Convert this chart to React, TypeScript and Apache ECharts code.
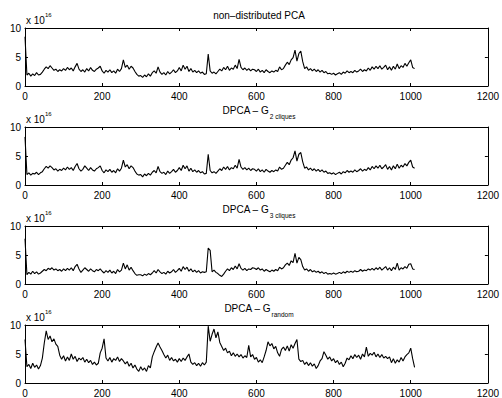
import React, { useEffect, useRef } from "react";
import * as echarts from "echarts";

// Sample spacing along the x axis (iteration index)
const SAMPLE_STEP = 5;

const nonDistributed = [
  8.5, 1.9, 2.2, 1.7, 2.1, 1.8, 2.3, 1.9, 2.0, 2.4,
  2.9, 3.3, 3.0, 3.5, 3.1, 2.7, 2.9, 2.5, 2.8, 2.6,
  3.0, 2.7, 3.2, 2.8, 3.1, 2.6, 3.3, 3.9, 2.9, 2.5,
  2.8, 2.4, 3.0, 2.6, 3.2, 2.7, 2.5, 2.9, 3.1, 3.4,
  2.6, 2.2, 2.7, 2.4, 2.8, 2.3, 2.6, 2.2, 2.9, 2.5,
  3.0, 4.5, 3.2, 3.6, 2.9, 3.4, 3.1, 2.5, 2.0, 1.7,
  1.8, 1.5, 1.9, 1.6, 2.1, 1.7, 2.3, 2.6, 2.2, 3.3,
  2.4, 2.0, 2.3, 1.9, 2.5, 2.1, 2.4, 2.8, 2.3, 2.6,
  3.2, 2.6, 3.6, 2.9, 3.4, 2.5, 3.0, 2.4, 2.7, 2.3,
  2.6, 2.2, 2.4, 2.0, 2.1, 5.5, 2.6, 2.2, 2.4, 2.1,
  2.5, 2.9, 2.6, 3.2, 2.8, 3.4, 2.7, 3.1, 2.9, 3.6,
  3.0, 4.6, 3.2, 2.8, 3.1, 2.7, 3.0, 2.6, 2.9, 2.8,
  2.5, 2.9, 2.4, 2.7, 2.3, 2.8, 2.5, 2.3, 2.6, 2.4,
  2.7, 2.5, 3.3, 2.8, 3.0, 3.6, 4.1, 3.7, 4.5, 4.9,
  6.2, 4.3, 5.6, 6.0, 4.2, 3.0, 3.3, 2.7, 3.0, 2.6,
  2.9, 2.5, 2.8, 2.4, 2.7, 2.3, 2.5, 2.1, 2.2, 2.0,
  2.2, 1.9, 2.1, 2.3, 2.0, 2.4, 2.2, 2.6, 2.3, 2.5,
  2.3, 2.7, 2.4, 2.6, 2.9, 2.5, 2.8, 2.6, 3.1, 2.7,
  3.3, 2.9, 3.4, 3.0, 3.5, 2.9, 3.2, 3.6, 2.8, 3.3,
  2.7, 3.4, 2.9, 3.8, 3.0, 3.5, 3.2, 3.9, 3.4, 4.0,
  4.5, 3.2, 3.0,
];

const g2Cliques = [
  8.3, 1.8, 2.1, 1.7, 2.0, 1.9, 2.2, 1.8, 2.1, 2.3,
  2.8, 3.2, 2.9, 3.3, 3.0, 2.6, 2.8, 2.4, 2.7, 2.5,
  2.9, 2.6, 3.1, 2.7, 3.0, 2.5, 3.2, 3.7, 2.8, 2.4,
  2.7, 3.3, 2.9, 2.5, 3.0, 2.6, 2.4, 2.8, 3.0, 3.3,
  2.5, 2.1, 2.6, 2.3, 2.7, 2.2, 2.5, 2.1, 2.8, 2.4,
  2.9, 4.3, 3.1, 3.5, 2.8, 3.3, 3.0, 2.4, 1.9, 1.7,
  1.8, 1.4, 1.9, 1.6, 2.0, 1.7, 2.2, 2.5, 2.1, 3.2,
  2.3, 2.0, 2.2, 1.8, 2.4, 2.0, 2.3, 2.7, 2.2, 2.5,
  3.0, 2.5, 3.4, 2.8, 3.3, 2.4, 2.9, 2.3, 2.6, 2.2,
  2.5, 2.1, 2.3, 1.9, 2.0, 5.3, 2.5, 2.1, 2.3, 2.0,
  2.4, 2.8, 2.5, 3.1, 2.7, 3.2, 2.6, 3.0, 2.8, 3.4,
  2.9, 4.4, 3.1, 2.7, 3.0, 2.6, 2.9, 2.5, 2.8, 2.7,
  2.4, 2.8, 2.3, 2.6, 2.2, 2.7, 2.4, 2.2, 2.5, 2.3,
  2.6, 2.4, 3.1, 2.7, 2.9, 3.4, 3.9, 3.5, 4.3, 4.7,
  5.9, 4.1, 5.3, 5.6, 4.0, 2.9, 3.1, 2.6, 2.9, 2.5,
  2.8, 2.4, 2.7, 2.3, 2.6, 2.2, 2.4, 2.0, 2.1, 1.9,
  2.1, 1.8, 2.0, 2.2, 1.9, 2.3, 2.1, 2.5, 2.2, 2.4,
  2.2, 2.6, 2.3, 2.5, 2.8, 2.4, 2.7, 2.5, 3.0, 2.6,
  3.2, 2.8, 3.3, 2.9, 3.4, 2.8, 3.1, 3.5, 2.7, 3.2,
  2.6, 3.3, 2.8, 3.6, 2.9, 3.4, 3.1, 3.7, 3.3, 3.9,
  4.3, 3.1, 2.9,
];

const g3Cliques = [
  7.8, 1.6, 2.0, 1.7, 2.2, 1.8, 2.1, 1.7, 1.9, 2.2,
  2.5, 2.3, 2.7, 2.5, 2.8, 2.4, 2.6, 2.3, 2.5, 2.2,
  2.6, 2.3, 2.7, 2.4, 2.8, 2.3, 3.0, 3.4, 2.6, 2.0,
  2.4, 2.8, 2.5, 2.2, 2.6, 2.3, 2.1, 2.5, 2.3, 2.6,
  2.2, 1.9, 2.3, 2.0, 2.4, 1.9, 2.2, 1.8, 2.5, 2.1,
  2.4, 3.6, 2.6, 3.3, 2.4, 2.9, 2.3, 1.8, 1.5, 1.6,
  1.6, 1.4, 1.7, 1.5, 1.8, 1.6, 1.9, 2.3, 1.9, 2.5,
  2.1, 1.8, 2.0, 1.7, 2.2, 1.9, 2.1, 2.5, 2.0, 2.3,
  2.7, 2.2, 3.0, 2.5, 2.9, 2.2, 2.6, 2.1, 2.4, 2.0,
  2.3, 1.9, 2.1, 2.0, 2.1, 6.2, 5.8, 2.1, 2.4, 2.0,
  1.8, 1.5, 1.3, 1.7, 2.2, 2.6, 2.3, 2.8, 2.5, 3.1,
  2.6, 3.5, 2.7, 2.4, 2.7, 2.3, 2.6, 2.5, 2.8, 2.7,
  2.5, 2.8, 2.4, 2.6, 2.2, 2.5, 2.3, 2.1, 2.4, 2.2,
  2.5, 2.3, 2.9, 2.6, 2.8, 3.3, 3.6, 3.2, 4.0, 3.7,
  5.3, 3.6, 4.6, 4.2, 3.0, 2.4, 2.6, 2.2, 2.5, 2.1,
  2.3, 2.0, 2.2, 1.9, 2.1, 1.8, 2.0, 1.7, 1.8, 1.7,
  1.9, 1.7, 1.8, 2.0, 1.8, 2.1, 1.9, 2.2, 2.0, 2.2,
  2.0, 2.3, 2.1, 2.2, 2.5, 2.2, 2.4, 2.3, 2.6, 2.4,
  2.7, 2.4, 2.8, 2.5, 2.9, 2.4, 2.7, 3.0, 2.4, 2.8,
  2.3, 2.9, 2.5, 3.6, 2.4, 2.8, 2.6, 3.0, 2.7, 3.4,
  3.5, 2.6, 2.5,
];

const gRandom = [
  7.5, 2.8, 3.2, 2.5, 3.4, 2.7, 3.1, 2.4, 3.0, 4.3,
  6.9, 9.0, 7.5, 8.1, 7.1, 7.6, 6.7, 6.3, 4.8, 4.1,
  4.7, 3.8, 4.5, 3.9, 5.0, 4.1, 4.6, 3.7, 4.3, 4.0,
  4.4, 3.6, 4.1, 3.5, 3.9, 3.2, 3.6, 3.1, 3.4, 5.2,
  6.0, 7.6, 4.3, 3.8, 4.4, 3.6, 4.2, 3.9, 4.5, 3.7,
  4.2, 3.8, 3.3, 3.7, 2.9, 3.4, 2.6, 3.1, 2.4, 2.0,
  2.8, 2.2, 2.6, 2.0, 3.0, 2.6, 4.5, 5.4, 6.2, 6.9,
  6.2, 5.6, 4.9, 4.3, 4.8, 3.9, 4.4, 3.8, 4.1, 3.6,
  4.2, 3.7, 4.3, 3.9, 4.5, 5.0, 3.6, 3.2, 3.5, 3.0,
  3.4, 2.9, 3.5, 3.1, 3.6, 9.8, 7.2, 8.4, 9.3, 7.8,
  8.8, 7.0, 6.3, 5.6, 6.0, 5.2, 5.5, 4.7, 5.2, 4.6,
  5.0, 4.5, 4.9, 4.3, 4.7, 4.4, 6.5, 4.5, 4.9, 4.1,
  4.4, 3.6, 4.0, 3.5, 4.5, 5.6, 7.1, 6.4, 6.8, 5.9,
  6.3, 5.2, 4.6, 5.8, 6.2, 5.6, 6.4, 5.5, 6.6, 6.0,
  6.8, 7.5, 4.1, 3.7, 3.9, 3.2, 3.6, 3.0, 3.5, 2.9,
  3.3, 2.5, 3.0, 3.8, 4.2, 5.4, 4.8, 4.1, 4.5, 3.8,
  4.2, 3.5, 3.9, 3.2, 3.6, 2.8, 3.4, 4.3, 4.0, 4.7,
  4.2, 4.9, 4.4, 4.8, 4.1, 5.0, 4.5, 6.2, 4.6, 5.1,
  4.8, 5.3, 4.5, 5.0, 4.4, 4.9, 4.3, 4.6, 4.2, 4.5,
  3.5, 4.2, 3.4, 4.0, 3.6, 4.4, 3.8, 4.5, 4.9, 5.2,
  6.0, 4.2, 2.7,
];

const panelTitles = [
  { main: "non\u2013distributed PCA", sub: "" },
  { main: "DPCA \u2013 G", sub: "2 cliques" },
  { main: "DPCA \u2013 G", sub: "3 cliques" },
  { main: "DPCA \u2013 G", sub: "random" },
];
const panelSeries = [nonDistributed, g2Cliques, g3Cliques, gRandom];

const X_MIN = 0;
const X_MAX = 1200;
const X_INTERVAL = 200;
const Y_MIN = 0;
const Y_MAX = 10;
const Y_INTERVAL = 5;
const EXPONENT_BASE = "x 10";
const EXPONENT_POWER = "16";

const FONT = "'Liberation Sans', Arial, Helvetica, sans-serif";
const MAIN_SIZE = 10;
const SUB_SIZE = 6.5;
const GRID_LEFT = 25;
const GRID_WIDTH = 468;
const GRID_HEIGHT = 58;
const GRID_TOPS = [28, 127, 226, 325];

function measure(text: string, size: number): number {
  const c = document.createElement("canvas").getContext("2d");
  if (!c) return text.length * size * 0.55;
  c.font = `${size}px ${FONT}`;
  return c.measureText(text).width;
}

export default function App() {
  const ref = useRef<HTMLDivElement>(null);

  useEffect(() => {
    document.body.style.margin = "0";
    if (!ref.current) return;
    const chart = echarts.init(ref.current, undefined, { renderer: "svg" });

    const grids: any[] = [];
    const xAxes: any[] = [];
    const yAxes: any[] = [];
    const series: any[] = [];
    const graphics: any[] = [];

    const axisLine = { show: true, onZero: false, lineStyle: { color: "#000", width: 1 } };
    const axisTick = { show: true, inside: true, length: 3, lineStyle: { color: "#000", width: 1 } };
    const labelStyle = { color: "#000", fontSize: MAIN_SIZE, fontFamily: FONT, formatter: (v: number) => String(v) };

    panelSeries.forEach((values, i) => {
      const top = GRID_TOPS[i];
      grids.push({ left: GRID_LEFT, top, width: GRID_WIDTH, height: GRID_HEIGHT, containLabel: false });
      xAxes.push({
        gridIndex: i, type: "value", position: "bottom", min: X_MIN, max: X_MAX, interval: X_INTERVAL,
        axisLine, axisTick, splitLine: { show: false },
        axisLabel: { ...labelStyle, margin: 5, showMinLabel: true, showMaxLabel: true },
      });
      xAxes.push({
        gridIndex: i, type: "value", position: "top", min: X_MIN, max: X_MAX, interval: X_INTERVAL,
        axisLine, axisTick, splitLine: { show: false }, axisLabel: { show: false },
      });
      yAxes.push({
        gridIndex: i, type: "value", position: "left", min: Y_MIN, max: Y_MAX, interval: Y_INTERVAL,
        axisLine, axisTick, splitLine: { show: false },
        axisLabel: { ...labelStyle, margin: 4 },
      });
      yAxes.push({
        gridIndex: i, type: "value", position: "right", min: Y_MIN, max: Y_MAX, interval: Y_INTERVAL,
        axisLine, axisTick, splitLine: { show: false }, axisLabel: { show: false },
      });
      series.push({
        type: "line",
        xAxisIndex: 2 * i,
        yAxisIndex: 2 * i,
        data: values.map((v, k) => [k * SAMPLE_STEP, v]),
        showSymbol: false,
        symbol: "none",
        lineStyle: { color: "#000", width: 1.1 },
        silent: true,
      });

      const t = panelTitles[i];
      const center = GRID_LEFT + GRID_WIDTH / 2;
      if (t.sub === "") {
        graphics.push({
          type: "text", x: center, y: top - 13,
          style: { text: t.main, fontSize: MAIN_SIZE, fontFamily: FONT, fill: "#000", align: "center", verticalAlign: "middle" },
        });
      } else {
        const w1 = measure(t.main, MAIN_SIZE);
        const w2 = measure(t.sub, SUB_SIZE);
        const start = center - (w1 + w2 + 0.5) / 2;
        graphics.push({
          type: "text", x: start, y: top - 17,
          style: { text: t.main, fontSize: MAIN_SIZE, fontFamily: FONT, fill: "#000", align: "left", verticalAlign: "middle" },
        });
        graphics.push({
          type: "text", x: start + w1 + 0.5, y: top - 11,
          style: { text: t.sub, fontSize: SUB_SIZE, fontFamily: FONT, fill: "#000", align: "left", verticalAlign: "middle" },
        });
      }
      graphics.push({
        type: "text", x: 26, y: top - 8,
        style: { text: EXPONENT_BASE, fontSize: MAIN_SIZE, fontFamily: FONT, fill: "#000", verticalAlign: "middle", align: "left" },
      });
      graphics.push({
        type: "text", x: 45, y: top - 13,
        style: { text: EXPONENT_POWER, fontSize: 6, fontFamily: FONT, fill: "#000", verticalAlign: "middle", align: "left" },
      });
    });

    chart.setOption({
      animation: false,
      backgroundColor: "#fff",
      grid: grids,
      xAxis: xAxes,
      yAxis: yAxes,
      series,
      graphic: graphics,
    });

    return () => chart.dispose();
  }, []);

  return <div ref={ref} style={{ width: 502, height: 398 }} />;
}
